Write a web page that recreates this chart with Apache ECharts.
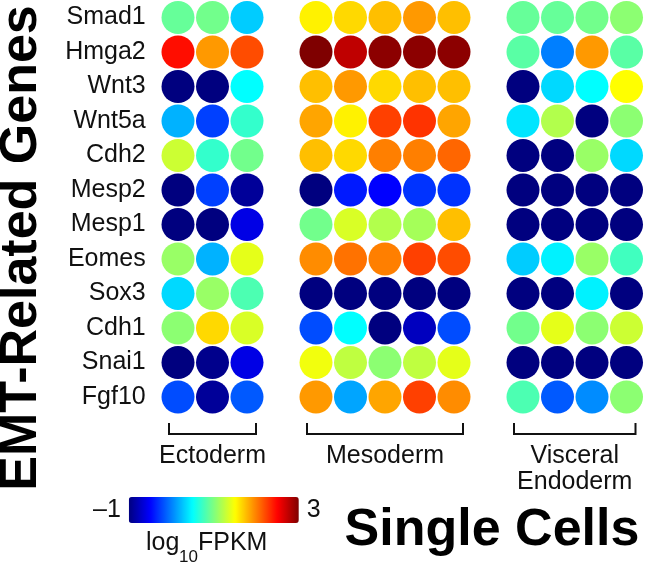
<!DOCTYPE html>
<html>
<head>
<meta charset="utf-8">
<script src="https://cdn.jsdelivr.net/npm/echarts@6/dist/echarts.min.js"></script>
<style>
html,body{margin:0;padding:0;background:#fff;}
#chart{width:645px;height:567px;}
</style>
</head>
<body>
<div id="chart"></div>
<script>
// Genes (rows, top to bottom)
const genes = ['Smad1','Hmga2','Wnt3','Wnt5a','Cdh2','Mesp2','Mesp1','Eomes','Sox3','Cdh1','Snai1','Fgf10'];
// log10 FPKM values, one row per gene, one column per single cell
const ectoderm = [
  [0.9, 0.95, 0.3],
  [2.45, 1.9, 2.2],
  [-1, -1, 0.5],
  [0.2, -0.25, 0.7],
  [1.3, 0.7, 0.95],
  [-1, -0.25, -0.9],
  [-1, -1, -0.6],
  [1.1, 0.2, 1.4],
  [0.35, 1.1, 0.8],
  [1.05, 1.65, 1.35],
  [-1, -0.95, -0.6],
  [-0.2, -0.9, -0.15]
];
const mesoderm = [
  [1.55, 1.65, 1.75, 1.9, 1.75],
  [3.0, 2.75, 2.95, 2.95, 2.95],
  [1.75, 1.9, 1.65, 1.75, 1.75],
  [1.85, 1.55, 2.25, 2.3, 1.85],
  [1.75, 1.65, 2.0, 2.0, 2.1],
  [-1, -0.4, -0.5, -0.3, -0.3],
  [0.95, 1.35, 1.2, 1.15, 1.75],
  [1.95, 2.05, 2.0, 2.25, 2.2],
  [-1, -1, -1, -1, -1],
  [-0.2, 0.5, -1, -0.75, -0.2],
  [1.45, 1.25, 1.05, 1.25, 1.4],
  [1.9, 0.15, 1.85, 2.25, 1.95]
];
const visceral = [
  [0.9, 0.9, 0.95, 1.05],
  [0.85, 0.0, 1.9, 0.85],
  [-1, 0.35, 0.5, 1.5],
  [0.4, 1.2, -1, 1.05],
  [-1, -1, 1.1, 0.35],
  [-1, -1, -1, -1],
  [-1, -1, -1, -1],
  [0.3, 0.45, 1.1, 0.75],
  [-1, -1, 0.45, -1],
  [0.95, 1.4, 1.05, 1.3],
  [-1, -1, -1, -1],
  [0.8, -0.15, 0.05, 1.05]
];
const groupNames = ['Ectoderm', 'Mesoderm', 'Visceral\nEndoderm'];
const groupData = [ectoderm, mesoderm, visceral];
const colorMin = -1, colorMax = 3;
const colorTicks = ['3', '\u20131'];
const jet = ['#00007F','#0000FF','#007FFF','#00FFFF','#7FFF7F','#FFFF00','#FF7F00','#FF0000','#7F0000'];

// build scatter data: slot index along x, with one empty slot between groups
const points = [];
const groupSlots = [];
let slot = 0;
groupData.forEach((g, gi) => {
  const n = g[0].length;
  groupSlots.push([slot, slot + n - 1]);
  g.forEach((row, r) => {
    row.forEach((v, c) => points.push([slot + c, r, v]));
  });
  slot += n + 1;
});
const nSlots = slot - 1;

const FONT = '"Liberation Sans", Arial, Helvetica, sans-serif';
const chart = echarts.init(document.getElementById('chart'), null, {renderer: 'canvas'});
const gridLeft = 160.75, cell = 34.5;
chart.setOption({
  animation: false,
  backgroundColor: '#fff',
  grid: {left: gridLeft, top: 0.25, width: nSlots * cell, height: genes.length * cell},
  xAxis: {type: 'value', min: -0.5, max: nSlots - 0.5, show: false},
  yAxis: {
    type: 'category', data: genes, inverse: true,
    axisLine: {show: false}, axisTick: {show: false}, splitLine: {show: false},
    axisLabel: {fontFamily: FONT, fontSize: 25, color: '#111', margin: 15, align: 'right'}
  },
  visualMap: {
    type: 'continuous', min: colorMin, max: colorMax, dimension: 2,
    orient: 'horizontal', left: 78, top: 482,
    itemWidth: 26, itemHeight: 170, text: colorTicks, textGap: 8,
    calculable: false, hoverLink: false,
    inRange: {color: jet},
    textStyle: {fontFamily: FONT, fontSize: 25, color: '#111'}
  },
  series: [{
    type: 'scatter', data: points, symbol: 'circle', symbolSize: 33,
    itemStyle: {opacity: 1}
  }]
});

// annotations derived from the axis scale
const graphics = [];
groupSlots.forEach((s, i) => {
  const x0 = chart.convertToPixel({gridIndex: 0}, [s[0], 0])[0] - 9;
  const x1 = chart.convertToPixel({gridIndex: 0}, [s[1], 0])[0] + 9;
  const xc = (x0 + x1) / 2;
  graphics.push({
    type: 'polyline', shape: {points: [[x0, 423], [x0, 434], [x1, 434], [x1, 423]]},
    style: {stroke: '#111', lineWidth: 2, fill: null}
  });
  graphics.push({
    type: 'text', x: xc, y: 443,
    style: {text: groupNames[i], fontFamily: FONT, fontSize: 25, fill: '#111',
      align: 'center', verticalAlign: 'top', lineHeight: 26}
  });
});
graphics.push({
  type: 'text', x: 22, y: 248, rotation: Math.PI / 2,
  style: {text: 'EMT-Related Genes', fontFamily: FONT, fontSize: 52, fontWeight: 'bold',
    fill: '#000', align: 'center', verticalAlign: 'middle'}
});
graphics.push({
  type: 'text', x: 492, y: 531,
  style: {text: 'Single Cells', fontFamily: FONT, fontSize: 52, fontWeight: 'bold',
    fill: '#000', align: 'center', verticalAlign: 'middle'}
});
graphics.push({type: 'text', x: 146, y: 556,
  style: {text: 'log', fontFamily: FONT, fontSize: 25, fill: '#111', align: 'left', verticalAlign: 'bottom'}});
graphics.push({type: 'text', x: 179, y: 566,
  style: {text: '10', fontFamily: FONT, fontSize: 17, fill: '#111', align: 'left', verticalAlign: 'bottom'}});
graphics.push({type: 'text', x: 198, y: 556,
  style: {text: 'FPKM', fontFamily: FONT, fontSize: 25, fill: '#111', align: 'left', verticalAlign: 'bottom'}});
chart.setOption({graphic: graphics});
</script>
</body>
</html>
